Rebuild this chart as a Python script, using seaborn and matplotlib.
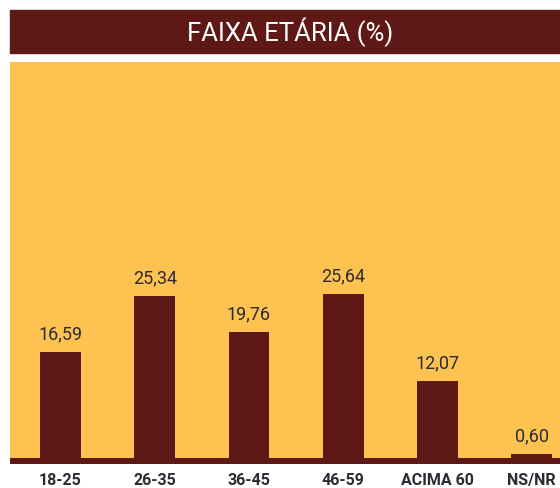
import numpy as np
import pandas as pd
import seaborn as sns
import matplotlib.pyplot as plt
from matplotlib.patches import Rectangle

### data
faixas = ['18-25', '26-35', '36-45', '46-59', 'ACIMA 60', 'NS/NR']
percentuais = [16.59, 25.34, 19.76, 25.64, 12.07, 0.60]
rotulos = ['16,59', '25,34', '19,76', '25,64', '12,07', '0,60']

VINHO = '#5e1916'
AMARELO = '#fdc250'
TEXTO = '#2b2b33'

sns.set_style('white')
plt.rcParams['font.family'] = ['Roboto', 'DejaVu Sans']

df = pd.DataFrame({'faixa': faixas, 'pct': percentuais})

fig = plt.figure(figsize=(5.6, 4.89), dpi=100)
W, H = 560, 489

# title banner
fig.patches.append(Rectangle((10 / W, 1 - 54 / H), 550 / W, 43 / H,
                             transform=fig.transFigure, color=VINHO, zorder=0))
fig.text(290 / W, 1 - 32 / H, 'FAIXA ETÁRIA (%)', color='white', fontsize=18.5,
         ha='center', va='center')

# plot area
ax = fig.add_axes([10 / W, 1 - 465 / H, 550 / W, (465 - 63) / H])
ax.set_facecolor(AMARELO)
sns.barplot(data=df, x='faixa', y='pct', color=VINHO, saturation=1,
            width=0.435, linewidth=0, ax=ax, zorder=3)

ymin, ymax = -0.94, 61.9
ax.axhspan(ymin, 0, color=VINHO, lw=0, zorder=2)
ax.set_ylim(ymin, ymax)
ax.set_xlim(-0.536, 5.30)

for i, (v, lab) in enumerate(zip(percentuais, rotulos)):
    ax.text(i, v + 1.5, lab, ha='center', va='bottom', fontsize=13,
            color=TEXTO, zorder=4)

ax.set_xlabel('')
ax.set_ylabel('')
ax.set_yticks([])
ax.tick_params(axis='x', length=0, pad=6)
for t in ax.get_xticklabels():
    t.set_fontsize(11.5)
    t.set_fontweight('bold')
    t.set_color(TEXTO)
for s in ax.spines.values():
    s.set_visible(False)

fig.savefig('out.png', dpi=100)
